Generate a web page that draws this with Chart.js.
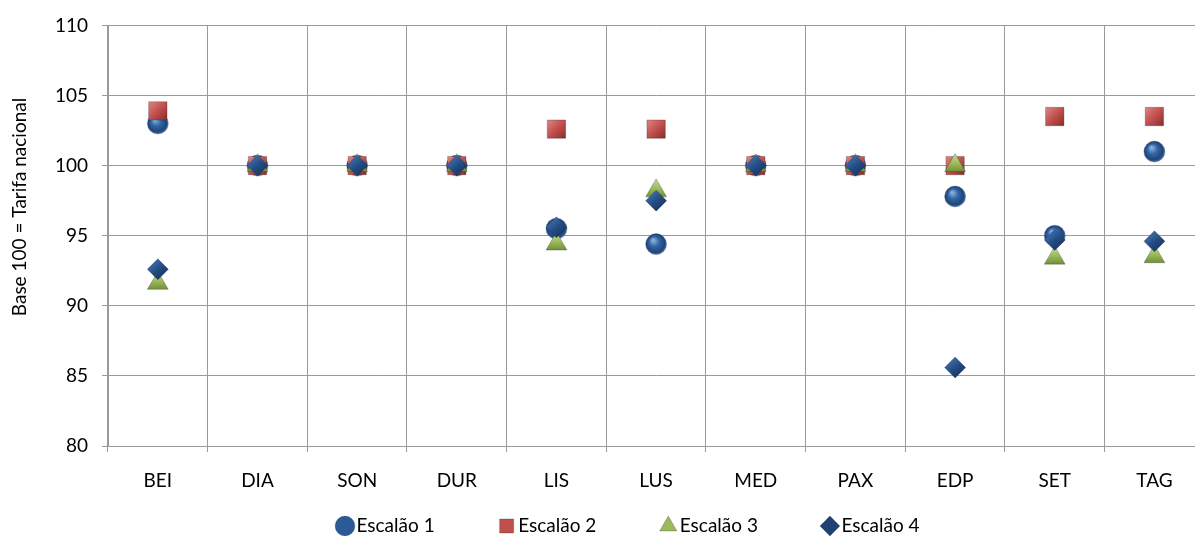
<!DOCTYPE html>
<html>
<head>
<meta charset="utf-8">
<script src="https://cdn.jsdelivr.net/npm/chart.js@4.4.1/dist/chart.umd.min.js"></script>
<style>
  html, body { margin: 0; padding: 0; background: #fff; overflow: hidden; width: 1195px; height: 536px; }
  #wrap { position: relative; width: 1218px; height: 536px; }
  canvas { display: block; }
</style>
</head>
<body>
<div id="wrap"><canvas id="chart" width="1218" height="536"></canvas></div>
<script>
// Operators (categories) and index values per tariff tier (base 100 = national tariff)
const categories = ['BEI', 'DIA', 'SON', 'DUR', 'LIS', 'LUS', 'MED', 'PAX', 'EDP', 'SET', 'TAG'];
const escalao1 = [103.0, 100, 100, 100, 95.5, 94.4, 100, 100, 97.8, 95.0, 101.0];
const escalao2 = [103.9, 100, 100, 100, 102.6, 102.6, 100, 100, 100, 103.5, 103.5];
const escalao3 = [91.6, 100, 100, 100, 94.4, 98.2, 100, 100, 100, 93.4, 93.5];
const escalao4 = [92.6, 100, 100, 100, 95.6, 97.5, 100, 100, 85.6, 94.7, 94.6];
const seriesNames = ['Escalão 1', 'Escalão 2', 'Escalão 3', 'Escalão 4'];
const yTicks = [80, 85, 90, 95, 100, 105, 110];
const yTitle = 'Base 100 = Tarifa nacional';

const FONT = 'Lato';
const FONT_SIZE = 19;
const GRID = '#9a9a9a';
const flatColors = ['#2b5a97', '#c0504d', '#9bbb59', '#1f4272'];

// Pixel position of a data point, resolved through the chart scales
function pointPos(c) {
  const ch = c.chart, xs = ch.scales.x, ys = ch.scales.y;
  if (!xs || !ys || !c.parsed) return null;
  const x = xs.getPixelForValue(c.dataIndex);
  const y = ys.getPixelForValue(c.parsed.y);
  return (isFinite(x) && isFinite(y)) ? { x, y } : null;
}

// Shaded fills giving the markers a bevelled / spherical look
const sphereFill = (c) => {
  const p = pointPos(c);
  if (!p) return flatColors[0];
  const g = c.chart.ctx.createRadialGradient(p.x - 3, p.y - 4, 1, p.x, p.y, 11);
  g.addColorStop(0, '#86abdc');
  g.addColorStop(0.4, '#3265a6');
  g.addColorStop(0.82, '#1e4478');
  g.addColorStop(1, '#6b8fbf');
  return g;
};
const squareFill = (c) => {
  const p = pointPos(c);
  if (!p) return flatColors[1];
  const g = c.chart.ctx.createLinearGradient(p.x - 9, p.y - 9, p.x + 9, p.y + 9);
  g.addColorStop(0, '#de8480');
  g.addColorStop(0.5, '#c0504d');
  g.addColorStop(1, '#8a2d2a');
  return g;
};
const triangleFill = (c) => {
  const p = pointPos(c);
  if (!p) return flatColors[2];
  const g = c.chart.ctx.createLinearGradient(p.x, p.y - 12, p.x, p.y + 6);
  g.addColorStop(0, '#c9dc9c');
  g.addColorStop(0.55, '#9bbb59');
  g.addColorStop(1, '#718f35');
  return g;
};
const diamondFill = (c) => {
  const p = pointPos(c);
  if (!p) return flatColors[3];
  const g = c.chart.ctx.createLinearGradient(p.x - 8, p.y - 10, p.x + 8, p.y + 10);
  g.addColorStop(0, '#4b79b6');
  g.addColorStop(0.5, '#244d84');
  g.addColorStop(1, '#142f55');
  return g;
};

// Rotated y-axis caption
const yTitlePlugin = {
  id: 'yTitle',
  afterDraw(chart) {
    const ctx = chart.ctx;
    ctx.save();
    ctx.translate(20, 207);
    ctx.rotate(-Math.PI / 2);
    ctx.font = FONT_SIZE + 'px ' + FONT;
    ctx.fillStyle = '#000';
    ctx.textAlign = 'center';
    ctx.textBaseline = 'middle';
    ctx.fillText(yTitle, 0, 0);
    ctx.restore();
  }
};

// Places the legend row under the axis labels
const LEGEND_PAD = 70;
const legendPlace = {
  id: 'legendPlace',
  afterLayout(chart) {
    const lg = chart.legend;
    if (!lg) return;
    lg.left = 343 - LEGEND_PAD;
    lg.right = chart.width;
    lg.top = 526 - LEGEND_PAD - FONT_SIZE / 2;
    lg.bottom = chart.height;
    lg.width = lg.right - lg.left;
    lg.height = lg.bottom - lg.top;
  }
};

function series(label, data, style, fill, radius, order, color) {
  return {
    label, data, order,
    showLine: false,
    pointStyle: style,
    pointRadius: radius,
    pointHoverRadius: radius,
    pointBackgroundColor: fill,
    pointBorderColor: 'rgba(20,30,50,0.35)',
    pointBorderWidth: 0.75,
    backgroundColor: color,
    borderColor: 'transparent'
  };
}

new Chart(document.getElementById('chart'), {
  type: 'line',
  data: {
    labels: categories,
    datasets: [
      series(seriesNames[0], escalao1, 'circle', sphereFill, 10.5, 4, flatColors[0]),
      series(seriesNames[1], escalao2, 'rect', squareFill, 13, 3, flatColors[1]),
      series(seriesNames[2], escalao3, 'triangle', triangleFill, 12, 2, flatColors[2]),
      series(seriesNames[3], escalao4, 'rectRot', diamondFill, 10.5, 1, flatColors[3])
    ]
  },
  options: {
    responsive: false,
    animation: false,
    layout: { padding: { top: 22, left: 0, right: 6, bottom: 0 } },
    plugins: {
      tooltip: { enabled: false },
      legend: {
        position: 'bottom',
        align: 'start',
        reverse: true,
        maxHeight: 20,
        labels: {
          usePointStyle: true,
          boxWidth: 4,
          boxHeight: 14,
          padding: LEGEND_PAD,
          color: '#000',
          font: { family: FONT, size: FONT_SIZE },
          generateLabels(chart) {
            const items = Chart.defaults.plugins.legend.labels.generateLabels(chart);
            items.forEach(it => {
              it.fillStyle = flatColors[it.datasetIndex];
              it.strokeStyle = 'rgba(20,30,50,0.35)';
              it.lineWidth = 0.75;
            });
            return items;
          }
        }
      }
    },
    scales: {
      x: {
        type: 'category',
        offset: true,
        grid: { offset: true, color: GRID, lineWidth: 1, tickLength: 6, drawTicks: true },
        border: { color: GRID, width: 1 },
        ticks: { color: '#000', padding: 17, font: { family: FONT, size: FONT_SIZE }, maxRotation: 0, autoSkip: false },
        afterFit(scale) {
          const lgH = scale.chart.legend ? scale.chart.legend.height : 0;
          scale.height = 536 - 446 - lgH;
        }
      },
      y: {
        min: yTicks[0],
        max: yTicks[yTicks.length - 1],
        afterBuildTicks(scale) { scale.ticks = yTicks.map(v => ({ value: v })); },
        grid: { color: GRID, lineWidth: 1, tickLength: 6 },
        border: { color: GRID, width: 1 },
        ticks: { color: '#000', padding: 14, font: { family: FONT, size: FONT_SIZE } },
        afterFit(scale) { scale.width = 108; }
      }
    }
  },
  plugins: [yTitlePlugin, legendPlace]
});
</script>
</body>
</html>
